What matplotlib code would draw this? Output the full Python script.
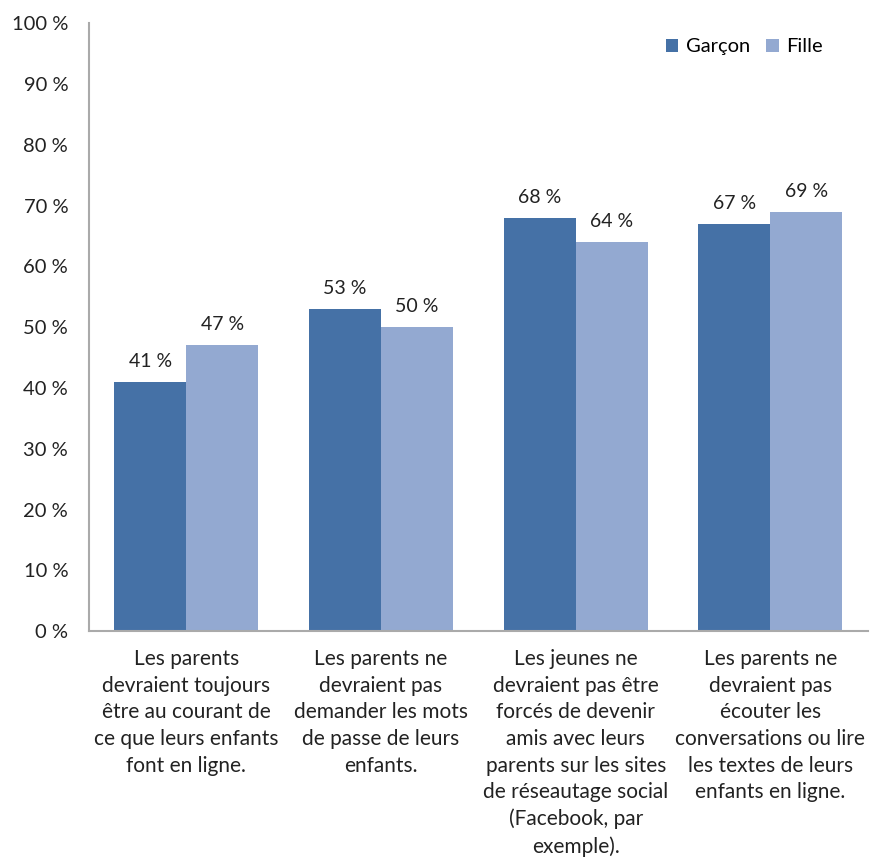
import numpy as np
import matplotlib
matplotlib.use("Agg")
import matplotlib.pyplot as plt

plt.rcParams['font.family'] = ['Lato', 'DejaVu Sans']

## Donnees
categories = [
    "Les parents\ndevraient toujours\nêtre au courant de\nce que leurs enfants\nfont en ligne.",
    "Les parents ne\ndevraient pas\ndemander les mots\nde passe de leurs\nenfants.",
    "Les jeunes ne\ndevraient pas être\nforcés de devenir\namis avec leurs\nparents sur les sites\nde réseautage social\n(Facebook, par\nexemple).",
    "Les parents ne\ndevraient pas\nécouter les\nconversations ou lire\nles textes de leurs\nenfants en ligne.",
]
garcon = [41, 53, 68, 67]
fille = [47, 50, 64, 69]
yticks = list(range(0, 101, 10))

col_g = "#4571a6"
col_f = "#93a9d1"

fig = plt.figure(figsize=(8.81, 8.6), dpi=100)
ax = fig.add_axes([0.101, 0.266, 0.884, 0.707])

x = np.arange(len(categories))
w = 0.37
b1 = ax.bar(x - w/2, garcon, w, color=col_g, label="Garçon")
b2 = ax.bar(x + w/2, fille, w, color=col_f, label="Fille")

for bars, vals in ((b1, garcon), (b2, fille)):
    for r, v in zip(bars, vals):
        ax.text(r.get_x() + r.get_width()/2, v + 2.0, "%d %%" % v,
                ha="center", va="bottom", fontsize=14, color="#222222")

ax.set_xlim(-0.5, len(categories) - 0.5)
ax.set_ylim(0, 100)
ax.set_yticks(yticks)
ax.set_yticklabels(["%d %%" % t for t in yticks], fontsize=14.5, color="#222222")
ax.set_xticks(x)
ax.set_xticklabels(categories, fontsize=15, color="#222222", linespacing=1.41, va="top")
ax.tick_params(axis="x", length=0, pad=13)
ax.tick_params(axis="y", length=0, pad=15)

for s in ("top", "right"):
    ax.spines[s].set_visible(False)
for s in ("left", "bottom"):
    ax.spines[s].set_color("#aaaaaa")
    ax.spines[s].set_linewidth(1.5)

ax.legend(loc="upper right", frameon=False, ncol=2, fontsize=14.5,
          handlelength=0.6, handleheight=0.6, handletextpad=0.4,
          columnspacing=0.8, bbox_to_anchor=(0.966, 1.005))

fig.savefig("out.png", dpi=100)
